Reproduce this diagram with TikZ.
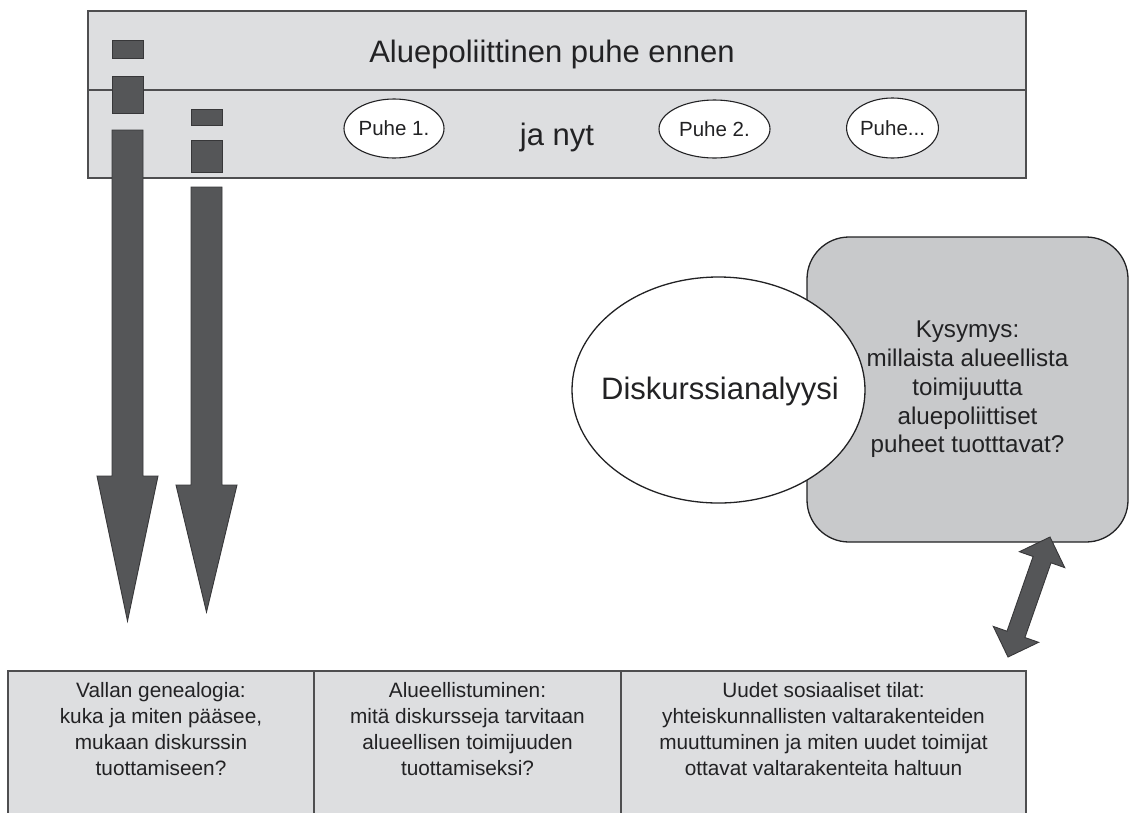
\documentclass[tikz,border=0pt]{standalone}
\usepackage{fontspec}
\setmainfont{Liberation Sans}
\usetikzlibrary{shapes.geometric}

\definecolor{panel}{RGB}{221,222,224}
\definecolor{panelline}{RGB}{78,78,80}
\definecolor{qfill}{RGB}{200,201,203}
\definecolor{blockfill}{RGB}{85,86,88}
\definecolor{blockline}{RGB}{55,55,57}
\definecolor{ink}{RGB}{34,34,36}

\tikzset{
  band/.style={draw=panelline, fill=panel, line width=1.8pt, inner sep=0pt, outer sep=0pt},
  blockshape/.style={draw=blockline, fill=blockfill, line width=0.9pt, line join=miter},
  bigtext/.style={text=ink, inner sep=0pt, font=\fontsize{31}{37}\selectfont},
  puhe/.style={ellipse, draw=ink, fill=white, line width=1.1pt, inner sep=0pt,
               text=ink, font=\fontsize{20.5}{24}\selectfont},
  qbox/.style={draw=ink, fill=qfill, line width=1.3pt, rounded corners=42pt, inner sep=0pt,
               align=center, text=ink, font=\fontsize{24.2}{28.75}\selectfont},
  cell/.style={draw=panelline, fill=panel, line width=1.4pt, inner sep=0pt, outer sep=0pt},
  celltext/.style={align=center, inner sep=0pt, text=ink, font=\fontsize{20.8}{26}\selectfont}
}

\begin{document}
\begin{tikzpicture}[x=1pt, y=-1pt]
\useasboundingbox (0,0) rectangle (1129,812);
\fill[white] (0,0) rectangle (1129,812);

% top band: "before" row and "now" row
\node[band, minimum width=938, minimum height=79, anchor=north west] (upper) at (88,11) {};
\node[band, minimum width=938, minimum height=88, anchor=north west] (lower) at (88,90) {};
\node[bigtext, anchor=base] (title) at (552,62) {Aluepoliittinen puhe ennen};
\node[bigtext, anchor=base] (janyt) at (557,145) {ja nyt};
\node[puhe, minimum width=100, minimum height=59] (p1) at (394,128.5) {Puhe 1.};
\node[puhe, minimum width=111, minimum height=58] (p2) at (714.5,129) {Puhe 2.};
\node[puhe, minimum width=89, minimum height=60] (p3) at (892.5,128) {Puhe...};

% left column: markers and long arrow
\filldraw[blockshape] (112,40) rectangle (143,58);
\filldraw[blockshape] (112,76) rectangle (143,113);
\filldraw[blockshape] (112,130) -- (143,130) -- (143,476) -- (158,476) -- (127.5,621)
  -- (97,476) -- (112,476) -- cycle;

% second column: markers and arrow
\filldraw[blockshape] (191,109) rectangle (222,125);
\filldraw[blockshape] (191,140) rectangle (222,172);
\filldraw[blockshape] (191,187) -- (222,187) -- (222,485) -- (237,485) -- (206.5,612)
  -- (176,485) -- (191,485) -- cycle;

% question box and discourse analysis ellipse
\node[qbox, minimum width=321, minimum height=305] (kys) at (967.5,389.5)
  {Kysymys:\\millaista alueellista\\toimijuutta\\aluepoliittiset\\puheet tuotttavat?};
\node[ellipse, draw=ink, fill=white, line width=1.3pt, inner sep=0pt,
      minimum width=293, minimum height=226] (da) at (718.5,390) {};
\node[bigtext, anchor=base] (datext) at (720,399) {Diskurssianalyysi};

% bottom row of three cells
\node[cell, minimum width=306, minimum height=160, anchor=north west] (c1) at (8,671) {};
\node[cell, minimum width=307, minimum height=160, anchor=north west] (c2) at (314,671) {};
\node[cell, minimum width=405, minimum height=160, anchor=north west] (c3) at (621,671) {};
\node[celltext] (t1) at (161,728.7)
  {Vallan genealogia:\\kuka ja miten pääsee,\\mukaan diskurssin\\tuottamiseen?};
\node[celltext] (t2) at (467.5,728.7)
  {Alueellistuminen:\\mitä diskursseja tarvitaan\\alueellisen toimijuuden\\tuottamiseksi?};
\node[celltext] (t3) at (823.5,728.7)
  {Uudet sosiaaliset tilat:\\yhteiskunnallisten valtarakenteiden\\muuttuminen ja miten uudet toimijat\\ottavat valtarakenteita haltuun};

% two-way block arrow between the question box and the bottom row
\coordinate (linktop) at (1050,537);
\coordinate (linkbot) at (1008,657);
\filldraw[blockshape] (linktop) -- (1064.7,567.6) -- (1051.0,562.8) -- (1024.9,637.5)
  -- (1038.6,642.3) -- (linkbot) -- (993.3,626.4) -- (1007.0,631.2)
  -- (1033.1,556.5) -- (1019.4,551.7) -- cycle;
\end{tikzpicture}
\end{document}
